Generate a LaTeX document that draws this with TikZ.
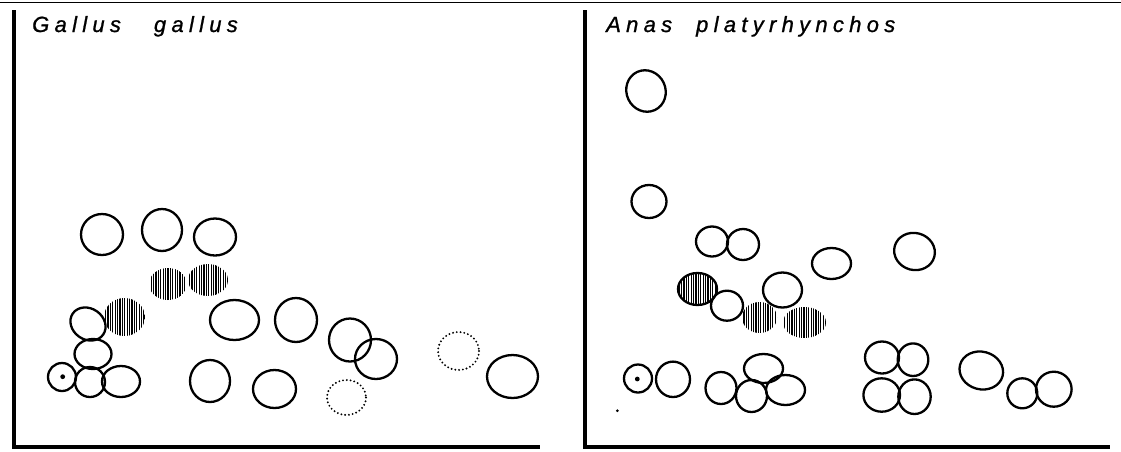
\documentclass[tikz,border=0pt]{standalone}
\usepackage{fontspec}
\setmainfont{Liberation Sans}
\usetikzlibrary{patterns.meta}
\tikzset{
  cell/.style={draw=black, line width=2.3pt},
  hatch/.style={pattern={Lines[angle=90,distance=2.4pt,line width=1.3pt]}, pattern color=black},
  dhatch/.style={draw=black, line width=2.3pt, pattern={Lines[angle=90,distance=2.4pt,line width=1.3pt]}, pattern color=black},
  dots/.style={draw=black, line width=2.1pt, dash pattern=on 0pt off 3.8pt, line cap=round},
  frame/.style={draw=black, line width=3.2pt},
  topline/.style={draw=black, line width=1.8pt},
  title/.style={anchor=base west, inner sep=0pt, font=\fontsize{22}{26}\selectfont\itshape\addfontfeatures{LetterSpace=24,FakeBold=1}}
}
\newcommand{\cellshape}[5]{\draw[cell, rotate around={#5:(#1,#2)}] (#1,#2) ellipse[x radius=#3, y radius=#4];}
\newcommand{\hatchshape}[5]{\fill[hatch, rotate around={#5:(#1,#2)}] (#1,#2) ellipse[x radius=#3, y radius=#4];}
\newcommand{\dotshape}[4]{\draw[dots] (#1,#2) ellipse[x radius=#3, y radius=#4];}
\begin{document}
\begin{tikzpicture}[x=1pt,y=-1pt]
\useasboundingbox (0,0) rectangle (1121,451);
% top rule
\coordinate (tl) at (0,2.5);
\coordinate (tr) at (1121,2.5);
\draw[topline] (tl) -- (tr);
% left panel frame
\coordinate (l1) at (14,10);
\coordinate (l2) at (14,447);
\coordinate (l3) at (540,447);
\draw[frame] (l1) -- (l2) -- (l3);
% right panel frame
\coordinate (r1) at (585,10);
\coordinate (r2) at (585,447);
\coordinate (r3) at (1110,447);
\draw[frame] (r1) -- (r2) -- (r3);
% titles
\node[title] (tleft) at (32,32) {Gallus\hspace{33pt}gallus};
\node[title] (tright) at (606,32) {Anas\hspace{24pt}platyrhynchos};

% ---- Gallus gallus ----
\cellshape{102}{234.5}{21}{20.5}{0}
\cellshape{162}{230}{20}{21}{0}
\cellshape{215}{237}{21}{18.5}{0}
\hatchshape{168}{284}{19}{16}{0}
\hatchshape{208}{280}{20}{16}{0}
\hatchshape{124.5}{317}{20.5}{19}{0}
\cellshape{88}{324}{18.5}{15.5}{-35}
\cellshape{93}{354}{18.5}{15}{0}
\cellshape{62}{377}{14}{14}{0}
\fill (62.7,376.7) circle[radius=2.4];
\cellshape{90}{382}{15}{15}{0}
\cellshape{121}{381.5}{19}{15.5}{0}
\cellshape{234.5}{320}{24.5}{20}{0}
\cellshape{296}{320}{21}{22}{0}
\cellshape{210}{381}{20}{21}{0}
\cellshape{274.5}{389}{21.5}{19}{0}
\cellshape{350}{340}{21}{21.5}{0}
\cellshape{376}{359}{21}{20}{0}
\dotshape{346.5}{397.5}{19.5}{17.5}
\dotshape{458.5}{351}{20.5}{19}
\cellshape{512.5}{376.5}{25.5}{21.5}{0}

% ---- Anas platyrhynchos ----
\cellshape{646}{91}{19.5}{21}{25}
\cellshape{649}{201.5}{17.5}{16.5}{0}
\cellshape{712}{241.5}{16}{15}{0}
\cellshape{743}{244.5}{16}{15.5}{0}
\cellshape{831.5}{263.5}{19.5}{15.5}{0}
\cellshape{914.5}{251.5}{20.5}{18.5}{-15}
\draw[dhatch] (697.5,289) ellipse[x radius=19.5, y radius=16];
\cellshape{727}{305.7}{16}{15}{0}
\cellshape{782.5}{290}{19.5}{17.5}{0}
\hatchshape{759.5}{317.5}{17.5}{15.5}{0}
\hatchshape{804.5}{322.5}{21.5}{15.5}{0}
\cellshape{638}{378.5}{14}{14}{0}
\fill (637.3,379) circle[radius=2.4];
\fill (617.3,410.7) circle[radius=1.5];
\cellshape{673}{379.3}{17}{17.7}{0}
\cellshape{721}{388}{15.5}{16}{0}
\cellshape{763.5}{368.5}{19.5}{14.5}{0}
\cellshape{751.5}{396}{15.5}{16}{0}
\cellshape{785.5}{390}{19.5}{15}{0}
\cellshape{882}{357.5}{17}{16}{0}
\cellshape{913}{359.7}{15.3}{16.3}{0}
\cellshape{881.7}{395}{18.3}{16.7}{0}
\cellshape{914.5}{396.7}{16.2}{17.3}{0}
\cellshape{981.3}{370.5}{22}{18.8}{-15}
\cellshape{1022.3}{393.3}{15}{15}{0}
\cellshape{1053.8}{389.2}{17.8}{17.5}{0}
\end{tikzpicture}
\end{document}
